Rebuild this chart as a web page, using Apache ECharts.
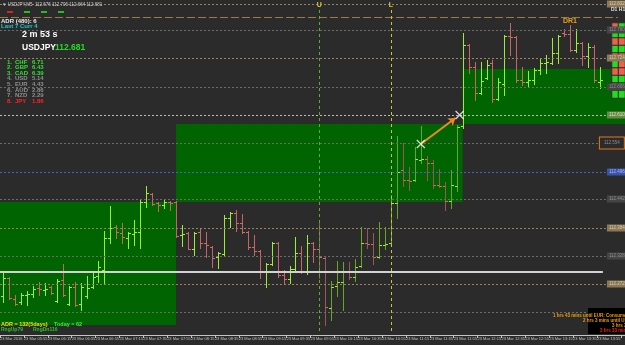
<!DOCTYPE html>
<html>
<head>
<meta charset="utf-8">
<script src="https://cdn.jsdelivr.net/npm/echarts@6/dist/echarts.min.js"></script>
<style>
html, body { margin: 0; padding: 0; background: #2b2b2b; }
#chart { width: 625px; height: 345px; }
</style>
</head>
<body>
<div id="chart"></div>
<script>
// USDJPY M5 bars, 23 Mar 2016
const barOpen = [112.248,112.284,112.242,112.236,112.250,112.252,112.264,112.260,112.266,112.238,
  112.280,112.232,112.266,112.232,112.248,112.266,112.288,112.300,112.364,112.386,
  112.374,112.364,112.372,112.376,112.436,112.452,112.434,112.430,112.436,112.436,
  112.370,112.374,112.342,112.376,112.354,112.346,112.326,112.332,112.404,112.414,
  112.394,112.376,112.346,112.338,112.296,112.312,112.354,112.290,112.282,112.302,
  112.334,112.296,112.354,112.342,112.324,112.224,112.268,112.276,112.298,112.286,
  112.308,112.354,112.352,112.326,112.350,112.354,112.434,112.500,112.480,112.480,
  112.520,112.522,112.514,112.470,112.468,112.438,112.468,112.588,112.750,112.706,
  112.654,112.684,112.714,112.642,112.672,112.768,112.766,112.680,112.676,112.680,
  112.700,112.714,112.714,112.734,112.774,112.772,112.740,112.754,112.728,112.746,
  112.676];
const barHigh = [112.298,112.286,112.250,112.254,112.258,112.268,112.276,112.274,112.268,112.282,
  112.312,112.268,112.276,112.274,112.288,112.298,112.318,112.378,112.428,112.390,
  112.394,112.376,112.400,112.440,112.468,112.454,112.436,112.440,112.438,112.438,
  112.390,112.376,112.376,112.384,112.376,112.348,112.336,112.410,112.416,112.420,
  112.412,112.378,112.370,112.340,112.314,112.356,112.356,112.300,112.308,112.366,
  112.348,112.370,112.356,112.396,112.326,112.278,112.318,112.316,112.316,112.322,
  112.386,112.384,112.374,112.396,112.386,112.450,112.568,112.554,112.506,112.546,
  112.588,112.528,112.520,112.502,112.476,112.500,112.590,112.774,112.752,112.716,
  112.716,112.720,112.720,112.684,112.770,112.794,112.768,112.706,112.698,112.704,
  112.722,112.730,112.764,112.770,112.782,112.790,112.782,112.756,112.754,112.750,
  112.706];
const barLow = [112.236,112.242,112.230,112.232,112.230,112.246,112.250,112.250,112.252,112.236,
  112.248,112.230,112.228,112.220,112.244,112.264,112.276,112.272,112.354,112.364,
  112.354,112.344,112.350,112.344,112.426,112.430,112.418,112.424,112.420,112.366,
  112.348,112.342,112.330,112.344,112.326,112.306,112.304,112.330,112.386,112.378,
  112.374,112.342,112.330,112.284,112.266,112.310,112.286,112.274,112.274,112.300,
  112.294,112.292,112.316,112.284,112.190,112.200,112.248,112.220,112.282,112.278,
  112.306,112.344,112.312,112.324,112.342,112.348,112.404,112.468,112.460,112.478,
  112.514,112.480,112.464,112.466,112.420,112.424,112.458,112.584,112.694,112.640,
  112.652,112.682,112.636,112.640,112.650,112.730,112.676,112.670,112.666,112.672,
  112.692,112.694,112.712,112.714,112.768,112.738,112.736,112.710,112.706,112.676,
  112.664];
const barClose = [112.284,112.244,112.232,112.250,112.252,112.262,112.262,112.262,112.254,112.278,
  112.250,112.266,112.230,112.266,112.264,112.286,112.306,112.364,112.384,112.376,
  112.366,112.374,112.376,112.436,112.454,112.432,112.430,112.436,112.434,112.368,
  112.372,112.342,112.374,112.354,112.350,112.324,112.334,112.404,112.414,112.394,
  112.376,112.346,112.338,112.296,112.312,112.354,112.290,112.282,112.302,112.334,
  112.296,112.354,112.342,112.326,112.226,112.266,112.276,112.298,112.286,112.306,
  112.354,112.352,112.326,112.350,112.352,112.434,112.496,112.480,112.478,112.522,
  112.522,112.514,112.470,112.468,112.438,112.470,112.586,112.750,112.706,112.654,
  112.678,112.710,112.642,112.676,112.768,112.766,112.680,112.676,112.680,112.700,
  112.714,112.716,112.734,112.768,112.772,112.740,112.754,112.728,112.746,112.680,
  112.681];

// time axis labels, one every 4 bars
const timeLabels = ['23 Mar 2016','23 Mar 05:55','23 Mar 06:15','23 Mar 06:35','23 Mar 06:55',
  '23 Mar 07:15','23 Mar 07:35','23 Mar 07:55','23 Mar 08:15','23 Mar 08:35','23 Mar 08:55',
  '23 Mar 09:15','23 Mar 09:35','23 Mar 09:55','23 Mar 10:15','23 Mar 10:35','23 Mar 10:55',
  '23 Mar 11:15','23 Mar 11:35','23 Mar 11:55','23 Mar 12:15','23 Mar 12:35','23 Mar 12:55',
  '23 Mar 13:15','23 Mar 13:35','23 Mar 13:55'];

// session range boxes (bar index from/to, price low/high)
const boxFrom = [-0.5, 29, 77];
const boxTo = [29, 77, 110];
const boxLow = [112.190, 112.436, 112.592];
const boxHigh = [112.436, 112.592, 112.702];

// horizontal levels with their price tags
const levelPrices = [112.832, 112.780, 112.724, 112.666, 112.610, 112.554, 112.496, 112.442, 112.384, 112.328, 112.272, 112.216];
const levelKinds = ['tan','grey','tan','grey','green','orange','blue','grey','tan','grey','tan','grey'];
const dayOpenPrice = 112.296;
const topLinePrice = 112.806;

// session markers
const sessionBars = [53, 65];
const sessionNames = ['U', 'L'];

// trade arrow
const arrowFrom = [70.5, 112.552];
const arrowTo = [76.3, 112.604];
const crossPoints = [[70.5, 112.552], [77.0, 112.610]];

// currency strength panel
const strengthCcy = ['CHF','GBP','CAD','USD','EUR','AUD','NZD','JPY'];
const strengthVal = [6.71, 6.43, 6.39, 5.14, 4.43, 2.86, 2.29, 1.86];

// D1 / H1 signal cells, 1 = up, 0 = down
const cellD1 = [0,1,0,1,0,1,0,1,0,1];
const cellH1 = [1,1,0,1,0,0,0,1,1,1];

const newsLines = ['1 hrs 43 mins until EUR: Consumer Confidence', '2 hrs 3 mins until USD: Crude Oil Inventories',
  '3 hrs 3 mins until USD: New Home Sales', '3 hrs 33 mins until USD: FOMC Member Speaks'];

const dimFrom = 53, dimTo = 76;
const lastSlot = 101;          // right edge of the bar area, in bars
const FONT = 'Liberation Sans, Arial, sans-serif';

const levelStyles = {
  grey:   { line: '#6c6c6c', bg: '#454545', text: '#8e8e8e' },
  tan:    { line: '#9a845c', bg: '#8a7858', text: '#d8cba8' },
  blue:   { line: '#4a62b8', bg: '#3a52a8', text: '#aabaf0' },
  green:  { line: '#bcbcbc', bg: '#6a8848', text: '#d4e4bc' },
  orange: { line: '#6c6c6c', bg: '#2b2b2b', text: '#8e8e8e', border: '#e07a1e' }
};

const barData = barOpen.map((o, i) => [i, o, barHigh[i], barLow[i], barClose[i]]);
const boxAreas = boxFrom.map((f, i) => [
  { coord: [f + 0.5, boxHigh[i]] },
  { coord: [boxTo[i] + 0.5, boxLow[i]] }
]);

const levelLines = levelPrices.map((p, k) => {
  const s = levelStyles[levelKinds[k]];
  const orange = levelKinds[k] === 'orange';
  return [
    {
      coord: [0, p],
      lineStyle: { color: s.line, type: [2, 2], width: 1 },
      label: {
        show: true, position: 'end', distance: orange ? -6 : 1,
        formatter: p.toFixed(3), color: s.text, fontSize: 4.5, fontFamily: FONT,
        backgroundColor: s.bg, padding: orange ? [3, 4] : [1, 2],
        borderColor: s.border || 'transparent', borderWidth: s.border ? 1 : 0
      }
    },
    { coord: [lastSlot + 0.5, p] }
  ];
});
levelLines.push([{ coord: [0, dayOpenPrice], lineStyle: { color: '#d2d2d2', width: 2, type: 'solid' }, label: { show: false } },
  { coord: [lastSlot, dayOpenPrice] }]);
levelLines.push([{ coord: [0, topLinePrice], lineStyle: { color: '#9a7a48', width: 1, type: [8, 3] }, label: { show: false } },
  { coord: [lastSlot + 2.5, topLinePrice] }]);
const lineColors = ['#58b02a', '#c8c82a'];
sessionBars.forEach((b, k) => {
  levelLines.push([
    { coord: [b + 0.5, 112.820], lineStyle: { color: lineColors[k], type: [3, 3], width: 1 },
      label: { show: true, position: 'start', formatter: sessionNames[k], color: '#d8c838', fontSize: 7, fontWeight: 'bold', fontFamily: FONT, distance: 1 } },
    { coord: [b + 0.5, 112.174] }
  ]);
});

function renderBar(params, api) {
  const i = api.value(0);
  const o = api.value(1), h = api.value(2), l = api.value(3), c = api.value(4);
  const x = Math.round(api.coord([i + 0.5, h])[0]) + 0.5;
  const yh = Math.round(api.coord([i + 0.5, h])[1]);
  const yl = Math.round(api.coord([i + 0.5, l])[1]);
  const yo = Math.round(api.coord([i + 0.5, o])[1]) + 0.5;
  const yc = Math.round(api.coord([i + 0.5, c])[1]) + 0.5;
  const up = c >= o;
  const dim = i >= dimFrom && i <= dimTo;
  const body = up ? (dim ? '#62a822' : '#96f02d') : (dim ? '#985656' : '#c86464');
  const tick = up ? '#9cf234' : '#d46a6a';
  return {
    type: 'group',
    children: [
      { type: 'line', shape: { x1: x, y1: yh, x2: x, y2: yl + 1 }, style: { stroke: body, lineWidth: 1 } },
      { type: 'line', shape: { x1: x - 2.5, y1: yo, x2: x, y2: yo }, style: { stroke: tick, lineWidth: 1 } },
      { type: 'line', shape: { x1: x, y1: yc, x2: x + 2.5, y2: yc }, style: { stroke: tick, lineWidth: 1 } }
    ]
  };
}

const heatData = [];
cellD1.forEach((v, r) => heatData.push([0, r, v]));
cellH1.forEach((v, r) => heatData.push([1, r, v]));

function txt(x, y, text, fill, size, weight) {
  return { type: 'text', x: x, y: y, silent: true, z: 10,
    style: { text: text, fill: fill, fontSize: size, fontWeight: weight || 'bold', fontFamily: FONT, verticalAlign: 'middle' } };
}

const graphics = [
  txt(2, 5, '\u25BC USDJPY,M5  112.676 112.706 112.664 112.681', '#d0d0d0', 4.5, 'normal'),
  { type: 'rect', x: 7, y: 11, shape: { width: 6, height: 2 }, style: { fill: '#e02020' }, z: 10 },
  { type: 'rect', x: 24, y: 11, shape: { width: 6, height: 2 }, style: { fill: '#20c020' }, z: 10 },
  { type: 'rect', x: 41, y: 11, shape: { width: 6, height: 2 }, style: { fill: '#20c020' }, z: 10 },
  { type: 'rect', x: 58, y: 11, shape: { width: 6, height: 2 }, style: { fill: '#20c020' }, z: 10 },
  txt(1, 21, 'ADR (480): 6', '#ececec', 6),
  txt(1, 26, 'Last 7 Curr 4', '#22c8c8', 6),
  txt(22, 35, '2 m 53 s', '#ffffff', 9),
  txt(22, 48, 'USDJPY', '#ffffff', 8.5),
  txt(55, 48, '112.681', '#22dd22', 8.5),
  txt(563, 21, 'DR1', '#e8a020', 7),
  txt(611, 10, 'D1 H1', '#e0e0e0', 5),
  txt(1, 324, 'ADR = 132(5days)', '#e6e600', 5.5),
  txt(54, 324, 'Today = 62', '#3ee83e', 5.5),
  txt(1, 330, 'RngUp79', '#22c822', 5),
  txt(33, 330, 'RngDn116', '#22c822', 5),
  { type: 'rect', x: 588, y: 308, shape: { width: 37, height: 26 }, style: { fill: '#000000' }, z: 9 }
];
strengthCcy.forEach((ccy, k) => {
  const col = k < 3 ? '#30e030' : (k === strengthCcy.length - 1 ? '#ff2424' : '#8e8e8e');
  const y = 62 + k * 5.6;
  graphics.push(txt(7, y, (k + 1) + '.', col, 6));
  graphics.push(txt(15, y, ccy, col, 6));
  graphics.push(txt(32, y, strengthVal[k].toFixed(2), col, 6));
});
const newsX = [553, 583, 612, 600];
newsLines.forEach((line, k) => {
  graphics.push(txt(newsX[k], 316 + k * 5, line, k === 3 ? '#ff2020' : '#f0a000', 4.5));
});

const chart = echarts.init(document.getElementById('chart'));
chart.setOption({
  backgroundColor: '#2b2b2b',
  animation: false,
  grid: [
    { left: 0, right: 0, top: 0, bottom: 10, outerBoundsMode: 'none', containLabel: false },
    { left: 612, width: 13, top: 23, height: 75, outerBoundsMode: 'none', containLabel: false }
  ],
  xAxis: [
    {
      type: 'value', min: 0, max: 104.7, interval: 4,
      splitLine: { show: false },
      axisLine: { lineStyle: { color: '#c4c4c4' } },
      axisTick: { show: true, length: 3, lineStyle: { color: '#c4c4c4' } },
      axisLabel: { color: '#c4c4c4', fontSize: 4, fontFamily: FONT, align: 'left', margin: 2,
        showMaxLabel: false, formatter: v => timeLabels[v / 4] || '' }
    },
    { type: 'category', gridIndex: 1, data: ['D1', 'H1'], show: false }
  ],
  yAxis: [
    { type: 'value', min: 112.170, max: 112.840, show: false, splitLine: { show: false } },
    { type: 'category', gridIndex: 1, data: cellD1.map((v, r) => r), inverse: true, show: false }
  ],
  visualMap: { show: false, type: 'piecewise', seriesIndex: 4, dimension: 2,
    pieces: [{ value: 0, color: '#f0604c' }, { value: 1, color: '#22dd22' }] },
  graphic: graphics,
  series: [
    { type: 'line', z: 1, data: [], silent: true,
      markArea: { silent: true, animation: false, itemStyle: { color: '#006400', opacity: 1 }, label: { show: false }, data: boxAreas } },
    { type: 'line', z: 2, data: [], silent: true,
      markLine: { silent: true, symbol: ['none', 'none'], animation: false, data: levelLines } },
    { type: 'custom', z: 3, silent: true, renderItem: renderBar, data: barData, encode: { x: 0, y: [1, 2, 3, 4] } },
    { type: 'scatter', z: 5, silent: true, data: crossPoints,
      symbol: 'path://M0,1L1,0L5,4L9,0L10,1L6,5L10,9L9,10L5,6L1,10L0,9L4,5Z', symbolSize: 9,
      itemStyle: { color: '#ffffff' },
      markLine: { silent: true, symbol: ['none', 'arrow'], symbolSize: 7, animation: false,
        lineStyle: { color: '#f08a1e', width: 2, type: 'solid' }, label: { show: false },
        data: [[{ coord: arrowFrom }, { coord: arrowTo }]] } },
    { type: 'heatmap', xAxisIndex: 1, yAxisIndex: 1, data: heatData, silent: true,
      itemStyle: { borderColor: '#2b2b2b', borderWidth: 1 } }
  ]
});
</script>
</body>
</html>
